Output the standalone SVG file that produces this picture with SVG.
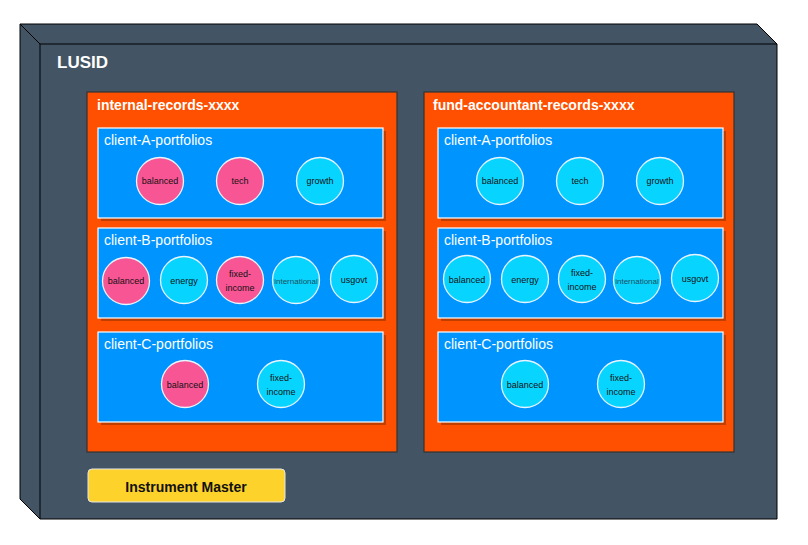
<svg xmlns="http://www.w3.org/2000/svg" width="808" height="545" viewBox="0 0 808 545">
<style>
text{font-family:"Liberation Sans",Arial,sans-serif}
.cube{fill:#435565;stroke:#000;stroke-width:1}
.edge{fill:none;stroke:#000;stroke-width:1}
.title{fill:#fff;font-weight:bold}
.store{fill:#FE5000;stroke:#333;stroke-width:1.2}
.shadow{fill:#C03E00}
.group{fill:#0094FF;stroke:#fff;stroke-width:1.2}
.glabel{fill:#fff;font-size:14px}
.pink{fill:#F85595;stroke:#E8F4FF;stroke-width:1.3}
.cyan{fill:#08D5FF;stroke:#E8F4FF;stroke-width:1.3}
.pl{fill:#111;font-size:9px;text-anchor:middle}
.intl{fill:#1d4f60;font-size:8px;text-anchor:middle}
.im{fill:#FCD22B;stroke:#e6e6e6;stroke-width:1}
</style>
<g id="lusid">
<path class="cube" d="M20,24 L757,24 L777,44 L777,519 L40,519 L20,499 Z"/>
<path class="edge" d="M20,24 L40,44 L777,44 M40,44 L40,519"/>
<text class="title" x="57" y="68" font-size="17">LUSID</text>
</g>
<g id="internal-records">
<rect class="store" x="87" y="92" width="310" height="360"/>
<text class="title" x="97" y="110" font-size="14">internal-records-xxxx</text>
</g>
<g id="fund-accountant-records">
<rect class="store" x="424" y="92" width="310" height="360"/>
<text class="title" x="433" y="110" font-size="14">fund-accountant-records-xxxx</text>
</g>
<g id="int-client-A">
<rect class="shadow" x="101" y="131" width="285" height="90"/>
<rect class="group" x="98" y="128" width="285" height="90"/>
<text class="glabel" x="104" y="145">client-A-portfolios</text>
</g>
<g id="int-A-balanced"><circle class="pink" cx="160" cy="181" r="23.5"/><text class="pl" x="160" y="184">balanced</text></g>
<g id="int-A-tech"><circle class="pink" cx="240" cy="181" r="23.5"/><text class="pl" x="240" y="184">tech</text></g>
<g id="int-A-growth"><circle class="cyan" cx="320" cy="181" r="23.5"/><text class="pl" x="320" y="184">growth</text></g>
<g id="int-client-B">
<rect class="shadow" x="101" y="231" width="285" height="90"/>
<rect class="group" x="98" y="228" width="285" height="90"/>
<text class="glabel" x="104" y="245">client-B-portfolios</text>
</g>
<g id="int-B-balanced"><circle class="pink" cx="126" cy="281" r="23.5"/><text class="pl" x="126" y="284">balanced</text></g>
<g id="int-B-energy"><circle class="cyan" cx="184" cy="280" r="23.5"/><text class="pl" x="184" y="284">energy</text></g>
<g id="int-B-fixed-income"><circle class="pink" cx="240" cy="280" r="23.5"/><text class="pl" x="240" y="277">fixed-</text><text class="pl" x="240" y="291">income</text></g>
<g id="int-B-international"><circle class="cyan" cx="296" cy="280" r="23.5"/><text class="intl" x="296" y="284">international</text></g>
<g id="int-B-usgovt"><circle class="cyan" cx="354" cy="279" r="23.5"/><text class="pl" x="354" y="283">usgovt</text></g>
<g id="int-client-C">
<rect class="shadow" x="101" y="335" width="285" height="90"/>
<rect class="group" x="98" y="332" width="285" height="90"/>
<text class="glabel" x="104" y="349">client-C-portfolios</text>
</g>
<g id="int-C-balanced"><circle class="pink" cx="185" cy="384" r="23.5"/><text class="pl" x="185" y="388">balanced</text></g>
<g id="int-C-fixed-income"><circle class="cyan" cx="281" cy="384" r="23.5"/><text class="pl" x="281" y="381">fixed-</text><text class="pl" x="281" y="395">income</text></g>
<g id="fa-client-A">
<rect class="shadow" x="441" y="131" width="285" height="90"/>
<rect class="group" x="438" y="128" width="285" height="90"/>
<text class="glabel" x="444" y="145">client-A-portfolios</text>
</g>
<g id="fa-A-balanced"><circle class="cyan" cx="500" cy="181" r="23.5"/><text class="pl" x="500" y="184">balanced</text></g>
<g id="fa-A-tech"><circle class="cyan" cx="580" cy="181" r="23.5"/><text class="pl" x="580" y="184">tech</text></g>
<g id="fa-A-growth"><circle class="cyan" cx="660" cy="181" r="23.5"/><text class="pl" x="660" y="184">growth</text></g>
<g id="fa-client-B">
<rect class="shadow" x="441" y="231" width="285" height="90"/>
<rect class="group" x="438" y="228" width="285" height="90"/>
<text class="glabel" x="444" y="245">client-B-portfolios</text>
</g>
<g id="fa-B-balanced"><circle class="cyan" cx="467" cy="279" r="23.5"/><text class="pl" x="467" y="283">balanced</text></g>
<g id="fa-B-energy"><circle class="cyan" cx="525" cy="279" r="23.5"/><text class="pl" x="525" y="283">energy</text></g>
<g id="fa-B-fixed-income"><circle class="cyan" cx="582" cy="279" r="23.5"/><text class="pl" x="582" y="276">fixed-</text><text class="pl" x="582" y="290">income</text></g>
<g id="fa-B-international"><circle class="cyan" cx="637" cy="280" r="23.5"/><text class="intl" x="637" y="284">international</text></g>
<g id="fa-B-usgovt"><circle class="cyan" cx="695" cy="278" r="23.5"/><text class="pl" x="695" y="282">usgovt</text></g>
<g id="fa-client-C">
<rect class="shadow" x="441" y="335" width="285" height="90"/>
<rect class="group" x="438" y="332" width="285" height="90"/>
<text class="glabel" x="444" y="349">client-C-portfolios</text>
</g>
<g id="fa-C-balanced"><circle class="cyan" cx="525" cy="384" r="23.5"/><text class="pl" x="525" y="388">balanced</text></g>
<g id="fa-C-fixed-income"><circle class="cyan" cx="621" cy="384" r="23.5"/><text class="pl" x="621" y="381">fixed-</text><text class="pl" x="621" y="395">income</text></g>
<g id="instrument-master">
<rect class="im" x="88" y="469" width="197" height="33" rx="4"/>
<text x="186" y="492" font-size="14" font-weight="bold" fill="#111" text-anchor="middle">Instrument Master</text>
</g>
</svg>
